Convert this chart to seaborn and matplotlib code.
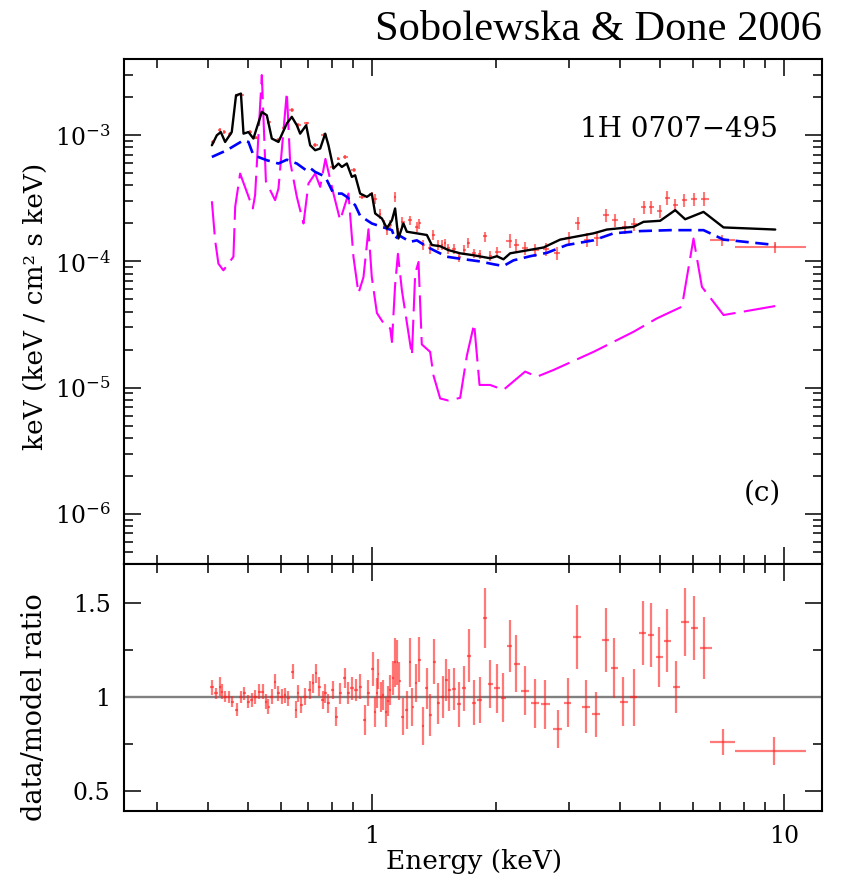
import numpy as np
import matplotlib
matplotlib.use("Agg")
import matplotlib.pyplot as plt
import seaborn as sns
import pandas as pd
from matplotlib.ticker import LogLocator, NullFormatter, FixedLocator

# ---------------- model curves (top panel) ----------------
total_e = [0.408, 0.4195, 0.4289, 0.4394, 0.456, 0.467, 0.480, 0.487, 0.5006, 0.5147, 0.5395, 0.5548,
           0.5705, 0.5921, 0.6205, 0.638, 0.6562, 0.6685, 0.6914, 0.707, 0.7271, 0.7478, 0.769, 0.7832,
           0.8054, 0.8282, 0.844, 0.868, 0.8926, 0.9094, 0.935, 0.9708, 0.998, 1.017, 1.056, 1.086,
           1.117, 1.137, 1.158, 1.191, 1.214, 1.284, 1.358, 1.396, 1.463, 1.532, 1.636, 1.762, 1.934,
           2.009, 2.084, 2.164, 2.608, 2.863, 3.449, 3.717, 4.314, 4.563, 5.007, 5.447, 5.759, 6.381,
           7.137, 9.53]
total_f = [8.33e-4, 1.0e-3, 1.06e-3, 8.85e-4, 1.06e-3, 2.07e-3, 2.14e-3, 1.03e-3, 1.06e-3, 9.42e-4,
           1.53e-3, 1.44e-3, 9.42e-4, 8.85e-4, 1.24e-3, 1.40e-3, 1.20e-3, 1.03e-3, 1.20e-3, 8.33e-4,
           7.61e-4, 7.85e-4, 1.03e-3, 8.33e-4, 5.45e-4, 5.97e-4, 5.61e-4, 5.97e-4, 4.68e-4, 4.82e-4,
           3.45e-4, 3.25e-4, 3.45e-4, 2.40e-4, 2.19e-4, 1.83e-4, 2.12e-4, 2.63e-4, 1.52e-4, 2.0e-4,
           1.72e-4, 1.67e-4, 1.62e-4, 1.35e-4, 1.32e-4, 1.23e-4, 1.16e-4, 1.12e-4, 1.06e-4, 1.10e-4,
           1.04e-4, 1.16e-4, 1.29e-4, 1.49e-4, 1.67e-4, 1.79e-4, 1.88e-4, 2.06e-4, 2.10e-4, 2.55e-4,
           2.16e-4, 2.47e-4, 1.86e-4, 1.79e-4]

cont_e = [0.408, 0.4436, 0.487, 0.5006, 0.5147, 0.5548, 0.5921, 0.6205, 0.6562, 0.6914, 0.707, 0.7271,
          0.769, 0.8054, 0.844, 0.868, 0.9094, 0.935, 0.998, 1.056, 1.117, 1.137, 1.158, 1.237, 1.284,
          1.358, 1.409, 1.519, 1.606, 1.829, 1.971, 2.084, 2.204, 2.42, 2.658, 2.972, 3.449, 3.857,
          4.479, 5.297, 6.381, 7.137, 9.53]
cont_f = [6.73e-4, 7.61e-4, 9.13e-4, 8.85e-4, 6.95e-4, 6.34e-4, 5.97e-4, 6.4e-4, 5.97e-4, 5.28e-4,
          5.5e-4, 5.12e-4, 4.7e-4, 3.45e-4, 3.45e-4, 3.25e-4, 2.79e-4, 2.3e-4, 2.0e-4, 1.88e-4, 1.77e-4,
          1.5e-4, 1.62e-4, 1.43e-4, 1.47e-4, 1.31e-4, 1.23e-4, 1.09e-4, 1.06e-4, 1.0e-4, 9.5e-5, 9.2e-5,
          1.02e-4, 1.1e-4, 1.17e-4, 1.35e-4, 1.47e-4, 1.67e-4, 1.74e-4, 1.77e-4, 1.77e-4, 1.49e-4, 1.35e-4]

refl_e = [0.408, 0.4155, 0.4232, 0.4352, 0.4603, 0.4648, 0.4778, 0.496, 0.5129, 0.5196, 0.5395, 0.552,
          0.5811, 0.5921, 0.6205, 0.632, 0.6562, 0.6811, 0.7004, 0.7271, 0.7478, 0.77, 0.8054, 0.8361,
          0.8759, 0.9006, 0.9262, 0.9526, 0.9795, 0.998, 1.027, 1.075, 1.106, 1.117, 1.137, 1.155, 1.181,
          1.249, 1.272, 1.296, 1.32, 1.383, 1.409, 1.463, 1.532, 1.636, 1.699, 1.769, 1.823, 1.934,
          2.084, 2.353, 2.512, 2.758, 3.449, 4.314, 4.918, 5.654, 6.034, 6.324, 7.137, 9.53]
refl_f = [3.0e-4, 1.47e-4, 9.6e-5, 8.5e-5, 1.09e-4, 2.71e-4, 4.97e-4, 3.56e-4, 2.63e-4, 3.35e-4, 3.0e-3,
          4.3e-4, 3.06e-4, 3.78e-4, 2.2e-3, 6.2e-4, 3.25e-4, 2.0e-4, 4.15e-4, 4.97e-4, 3.9e-4, 6.5e-4,
          3.45e-4, 2.12e-4, 3.45e-4, 1.09e-4, 5.6e-5, 7.5e-5, 1.8e-4, 7.5e-5, 3.9e-5, 3.1e-5, 2.95e-5,
          2.3e-5, 6.5e-5, 1.15e-4, 5.9e-5, 1.8e-5, 8.0e-5, 9.9e-5, 2.2e-5, 1.92e-5, 1.25e-5, 8.2e-6,
          7.9e-6, 8.3e-6, 1.8e-5, 3.2e-5, 1.05e-5, 1.05e-5, 9.6e-6, 1.34e-5, 1.22e-5, 1.38e-5, 1.92e-5,
          2.77e-5, 3.54e-5, 4.38e-5, 1.52e-4, 6.29e-5, 3.76e-5, 4.43e-5]

# ---------------- data points (top panel) ----------------
data_e = [0.4115, 0.4273, 0.437, 0.452, 0.4707, 0.481, 0.505, 0.523, 0.540, 0.560, 0.592, 0.611, 0.638,
          0.661, 0.694, 0.727, 0.762, 0.805, 0.828, 0.860, 0.901, 0.944, 0.998, 1.017, 1.046, 1.069,
          1.086, 1.106, 1.137, 1.157, 1.183, 1.237, 1.284, 1.303, 1.332, 1.383, 1.409, 1.449, 1.477,
          1.505, 1.532, 1.582, 1.629, 1.676, 1.714, 1.769, 1.823, 1.881, 1.934, 2.009, 2.164, 2.238,
          2.353, 2.489, 2.647, 2.810, 2.999, 3.154, 3.324, 3.516, 3.703, 3.879, 4.102, 4.314, 4.563,
          4.755, 5.007, 5.216, 5.447, 5.728, 6.034, 6.381, 7.073, 9.50]
data_f = [8.85e-4, 1.10e-3, 1.06e-3, 1.02e-3, 2.07e-3, 2.1e-3, 1.07e-3, 9.6e-4, 1.52e-3, 1.27e-3,
          9.13e-4, 1.14e-3, 1.58e-3, 1.2e-3, 1.24e-3, 8.33e-4, 1.0e-3, 5.61e-4, 6.54e-4, 6.73e-4,
          5.28e-4, 3.25e-4, 3.45e-4, 3.15e-4, 2.37e-4, 1.97e-4, 1.77e-4, 1.94e-4, 3.25e-4, 1.7e-4,
          2.05e-4, 2.12e-4, 1.88e-4, 2.0e-4, 1.35e-4, 1.27e-4, 1.62e-4, 1.35e-4, 1.35e-4, 1.39e-4,
          1.27e-4, 1.25e-4, 1.09e-4, 1.23e-4, 1.40e-4, 1.16e-4, 1.14e-4, 1.58e-4, 1.10e-4, 1.19e-4,
          1.46e-4, 1.35e-4, 1.27e-4, 1.23e-4, 1.25e-4, 1.16e-4, 1.52e-4, 2.02e-4, 1.49e-4, 1.52e-4,
          2.33e-4, 2.12e-4, 1.86e-4, 1.97e-4, 2.70e-4, 2.70e-4, 2.52e-4, 3.21e-4, 2.79e-4, 3.05e-4,
          3.10e-4, 3.15e-4, 1.48e-4, 1.29e-4]
data_relerr = [0.035] * 23 + [0.09] * 27 + [0.12] * 22 + [0.1] * 2

# ---------------- data/model ratio (bottom panel) ----------------
ratio_e = [0.408, 0.4178, 0.4273, 0.4321, 0.4394, 0.4494, 0.456, 0.469, 0.480, 0.4896, 0.5006, 0.5102,
           0.5196, 0.5323, 0.5426, 0.5526, 0.5598, 0.5705, 0.5811, 0.5921, 0.6034, 0.6147, 0.6261,
           0.6418, 0.6526, 0.6622, 0.6712, 0.6874, 0.707, 0.7177, 0.7309, 0.7433, 0.7589, 0.769, 0.7832,
           0.8026, 0.8177, 0.8361, 0.8599, 0.8759, 0.8926, 0.9144, 0.935, 0.9616, 0.9795, 1.004, 1.017,
           1.027, 1.036, 1.05, 1.065, 1.081, 1.095, 1.106, 1.123, 1.137, 1.152, 1.165, 1.187, 1.214,
           1.237, 1.253, 1.279, 1.303, 1.328, 1.358, 1.383, 1.415, 1.449, 1.485, 1.513, 1.541, 1.582,
           1.629, 1.673, 1.721, 1.769, 1.823, 1.881, 1.934, 2.009, 2.084, 2.156, 2.238, 2.35, 2.489,
           2.636, 2.82, 2.983, 3.143, 3.305, 3.496, 3.697, 3.877, 4.078, 4.314, 4.548, 4.763, 4.981,
           5.216, 5.467, 5.76, 6.057, 6.408, 7.113, 9.49]
ratio_r = [1.052, 1.02, 1.055, 1.028, 1.002, 1.0, 0.975, 0.931, 1.0, 1.02, 0.975, 0.984, 1.0, 1.027,
           1.027, 0.975, 0.948, 1.0, 1.08, 1.02, 1.0, 1.01, 0.993, 1.135, 0.931, 1.02, 0.957, 1.0, 1.037,
           1.073, 1.126, 1.055, 0.984, 1.02, 0.966, 1.037, 0.895, 1.02, 1.1, 1.02, 1.046, 1.037, 1.055,
           0.878, 1.02, 1.149, 0.922, 1.02, 1.121, 1.0, 1.01, 0.922, 0.979, 1.037, 1.1, 1.185, 1.185,
           1.085, 0.895, 0.931, 1.185, 0.948, 1.073, 1.197, 0.847, 1.046, 0.904, 1.188, 0.966, 1.0, 1.09,
           1.037, 1.043, 0.961, 1.046, 1.22, 0.97, 0.984, 1.418, 1.069, 1.046, 0.996, 1.271, 1.177, 1.034,
           0.966, 0.961, 0.828, 0.97, 1.318, 0.948, 0.908, 1.303, 1.156, 0.975, 0.998, 1.339, 1.33, 1.214,
           1.3, 1.052, 1.397, 1.365, 1.259, 0.762, 0.714]
ratio_err = [0.04, 0.03, 0.05, 0.04, 0.03, 0.03, 0.03, 0.035, 0.03, 0.035, 0.035, 0.035, 0.035, 0.04,
             0.04, 0.04, 0.04, 0.04, 0.04, 0.04, 0.04, 0.04, 0.04, 0.04, 0.045, 0.045, 0.045, 0.045, 0.05,
             0.05, 0.05, 0.05, 0.05, 0.05, 0.05, 0.05, 0.05, 0.055, 0.055, 0.06, 0.06, 0.06, 0.065, 0.08,
             0.07, 0.09, 0.08, 0.08, 0.08, 0.08, 0.08, 0.08, 0.08, 0.08, 0.09, 0.13, 0.12, 0.1, 0.1, 0.1,
             0.13, 0.1, 0.1, 0.12, 0.1, 0.11, 0.11, 0.12, 0.11, 0.11, 0.11, 0.11, 0.11, 0.12, 0.12, 0.14,
             0.12, 0.12, 0.16, 0.13, 0.13, 0.13, 0.14, 0.15, 0.13, 0.13, 0.13, 0.1, 0.13, 0.17, 0.14, 0.12,
             0.17, 0.16, 0.13, 0.15, 0.17, 0.17, 0.16, 0.17, 0.14, 0.18, 0.17, 0.165, 0.07, 0.075]
# energy bin edges of the two widest (last) bins
wide_lo = [6.62, 7.6]
wide_hi = [7.6, 11.3]


def bin_halfwidths(e, lo_last, hi_last):
    e = np.asarray(e, dtype=float)
    mids = np.sqrt(e[1:] * e[:-1])
    lo = np.concatenate([[e[0] ** 2 / mids[0]], mids])
    hi = np.concatenate([mids, [e[-1] ** 2 / mids[-1]]])
    lo[-2:] = lo_last
    hi[-2:] = hi_last
    return e - lo, hi - e


sns.set_theme(style="ticks")
plt.rcParams["font.family"] = ["DejaVu Serif"]
plt.rcParams["mathtext.fontset"] = "dejavuserif"
for k in ("text.color", "axes.labelcolor", "xtick.color", "ytick.color", "axes.edgecolor"):
    plt.rcParams[k] = "black"

W, H = 843, 882
fig = plt.figure(figsize=(W / 100, H / 100), dpi=100)
x0, x1 = 124.3, 822.3
ax1 = fig.add_axes([x0 / W, 1 - 564 / H, (x1 - x0) / W, (564 - 59.3) / H])
ax2 = fig.add_axes([x0 / W, 1 - 810.7 / H, (x1 - x0) / W, (810.7 - 564) / H])

red = "#ff2020"

# --- top panel
df_tot = pd.DataFrame({"E": total_e, "F": total_f})
df_cont = pd.DataFrame({"E": cont_e, "F": cont_f})
df_refl = pd.DataFrame({"E": refl_e, "F": refl_f})

de = np.asarray(data_e)
df_ = np.asarray(data_f)
rel = np.asarray(data_relerr)
xl, xh = bin_halfwidths(data_e, wide_lo, wide_hi)
ax1.errorbar(de[:-2], df_[:-2], yerr=[df_[:-2] * rel[:-2], df_[:-2] * rel[:-2]],
             xerr=[xl[:-2] * 0.6, xh[:-2] * 0.6], fmt="none",
             ecolor=red, alpha=0.6, elinewidth=1.5, zorder=2)
ax1.errorbar(de[-2:], df_[-2:], yerr=[df_[-2:] * rel[-2:], df_[-2:] * rel[-2:]],
             xerr=[xl[-2:], xh[-2:]], fmt="none", ecolor=red, alpha=0.6,
             elinewidth=1.5, zorder=2)

sns.lineplot(data=df_refl, x="E", y="F", ax=ax1, color="#ff00ff", lw=1.5, sort=False,
             estimator=None, linestyle=(0, (16, 4)), zorder=3)
sns.lineplot(data=df_cont, x="E", y="F", ax=ax1, color="#0000ff", lw=1.9, sort=False,
             estimator=None, linestyle=(0, (5, 2.5)), zorder=4)
sns.lineplot(data=df_tot, x="E", y="F", ax=ax1, color="black", lw=1.7, sort=False,
             estimator=None, zorder=5)

ax1.set_xscale("log")
ax1.set_yscale("log")
ax1.set_xlim(0.25, 12.4)
ax1.set_ylim(4e-7, 4e-3)
ax1.set_xlabel("")
ax1.set_ylabel("")
ax1.set_yticks([1e-6, 1e-5, 1e-4, 1e-3])
ax1.set_yticklabels([r"$10^{-6}$", r"$10^{-5}$", r"$10^{-4}$", r"$10^{-3}$"])
ax1.yaxis.set_minor_locator(LogLocator(base=10, subs=np.arange(2, 10), numticks=50))
ax1.yaxis.set_minor_formatter(NullFormatter())
ax1.text(0.795, 0.86, "1H 0707\u2212495", transform=ax1.transAxes, ha="center", va="center",
         fontsize=20)
ax1.text(0.914, 0.141, "(c)", transform=ax1.transAxes, ha="center", va="center", fontsize=20)

# --- ratio panel
re = np.asarray(ratio_e)
rl, rh = bin_halfwidths(ratio_e, wide_lo, wide_hi)
ax2.axhline(1.0, color="#808080", lw=1.7, zorder=1)
ax2.errorbar(re[:-2], ratio_r[:-2], yerr=ratio_err[:-2], xerr=[rl[:-2] * 0.8, rh[:-2] * 0.8],
             fmt="none", ecolor=red, alpha=0.6, elinewidth=1.6, zorder=2)
ax2.errorbar(re[-2:], ratio_r[-2:], yerr=ratio_err[-2:], xerr=[rl[-2:], rh[-2:]],
             fmt="none", ecolor=red, alpha=0.6, elinewidth=1.6, zorder=2)
ax2.set_xscale("log")
ax2.set_xlim(0.25, 12.4)
ax2.set_ylim(0.395, 1.707)
ax2.set_yticks([0.5, 1.0, 1.5])
ax2.set_yticklabels(["0.5", "1", "1.5"])
ax2.yaxis.set_minor_locator(FixedLocator([0.75, 1.25]))

for ax in (ax1, ax2):
    ax.set_xticks([1, 10])
    ax.xaxis.set_minor_locator(LogLocator(base=10, subs=np.arange(2, 10), numticks=50))
    ax.xaxis.set_minor_formatter(NullFormatter())
    ax.tick_params(which="both", direction="in", top=True, right=True, color="black")
    ax.tick_params(which="major", length=12, width=1.1, labelsize=17, pad=10)
    ax.tick_params(which="minor", length=6.5, width=1.1)
    for s in ax.spines.values():
        s.set_linewidth(1.5)
        s.set_color("black")
    ax.set_facecolor("white")
    ax.grid(False)

ax1.set_xticklabels(["", ""])
ax2.set_xticklabels(["1", "10"])
ax2.set_xlabel("")
ax2.set_ylabel("")

fig.text(474 / W, 1 - 862 / H, "Energy (keV)", ha="center", va="center", fontsize=19)
fig.text(35 / W, 1 - 306 / H, "keV (keV / cm\u00b2 s keV)", ha="center", va="center",
         rotation=90, fontsize=19)
fig.text(35 / W, 1 - 707 / H, "data/model ratio", ha="center", va="center", rotation=90,
         fontsize=19.5)
fig.text(822 / W, 1 - 40 / H, "Sobolewska & Done 2006", ha="right", va="baseline",
         family=["Liberation Serif"], fontsize=30.5)

fig.savefig("out.png", dpi=100, facecolor="white")
